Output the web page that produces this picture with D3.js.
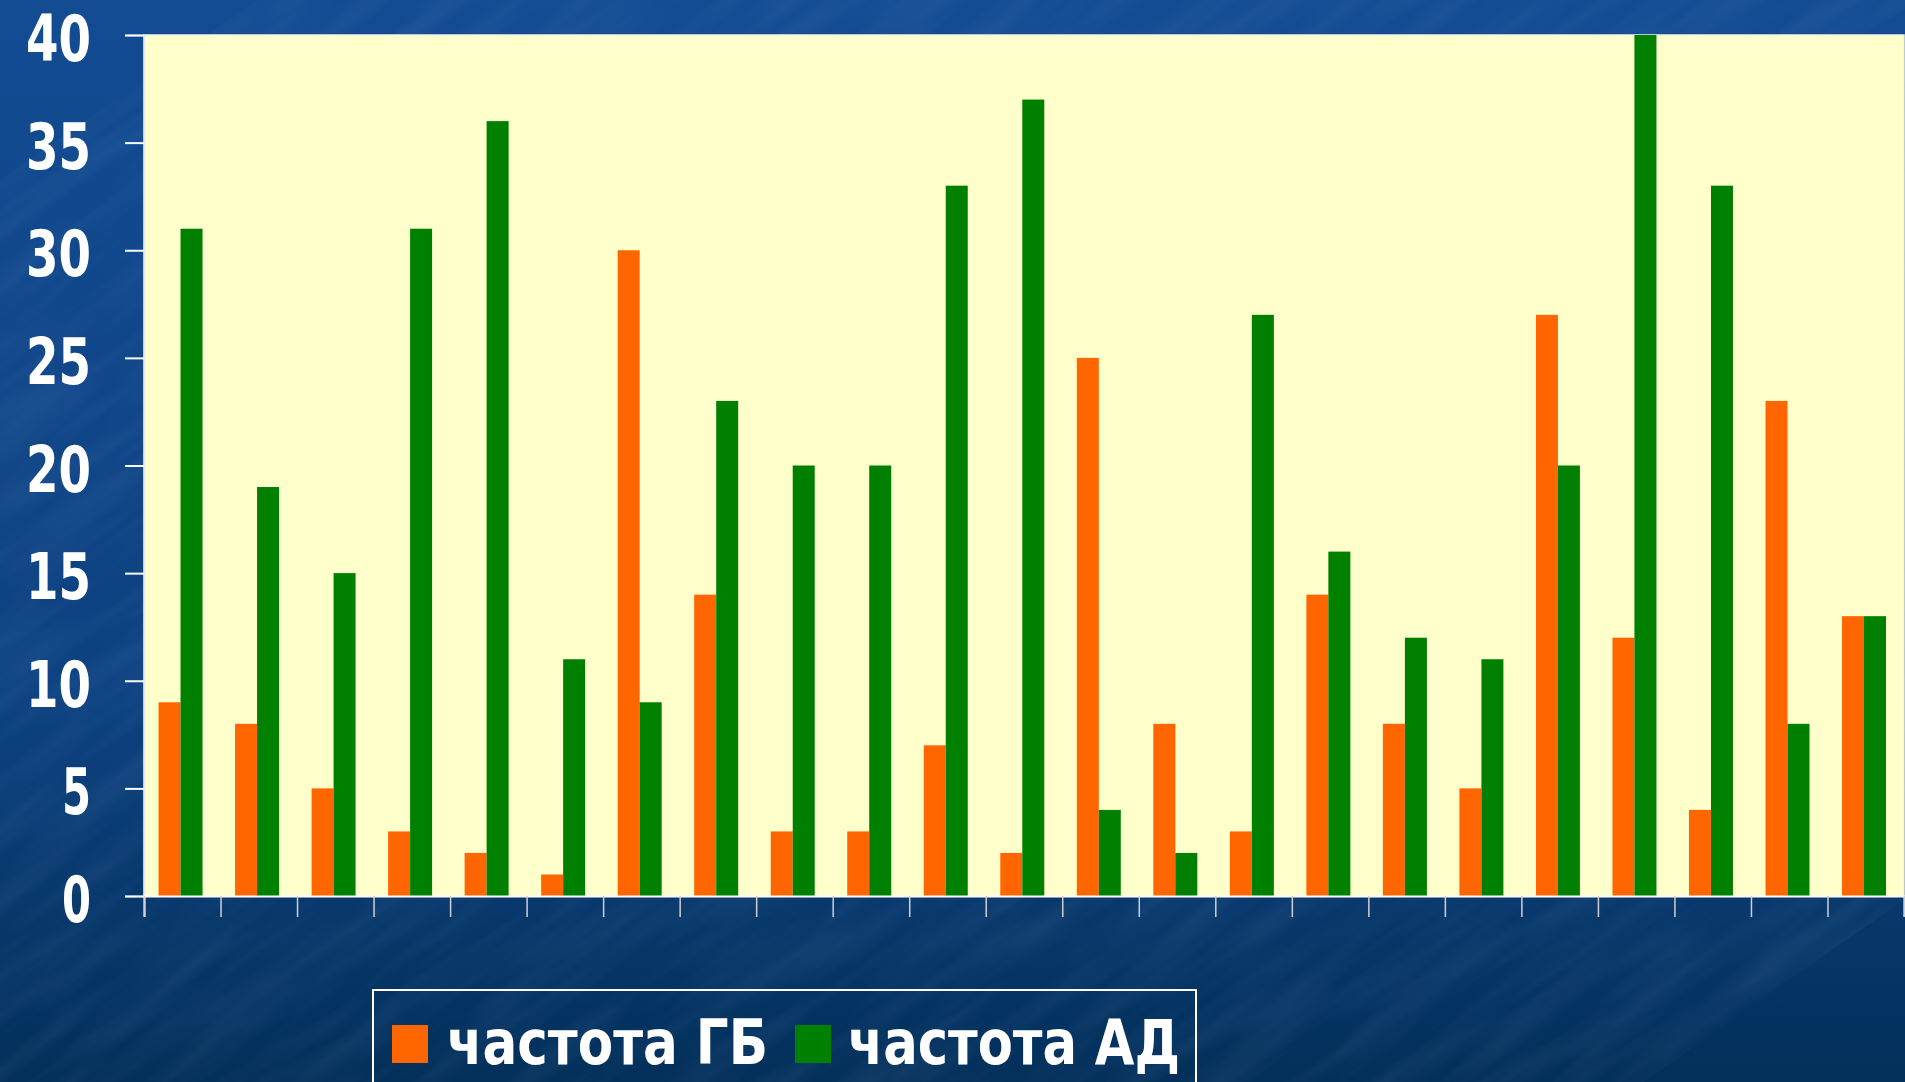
<!DOCTYPE html>
<html><head><meta charset="utf-8">
<script src="https://cdn.jsdelivr.net/npm/d3@7"></script>
<style>html,body{margin:0;padding:0;overflow:hidden;background:#0b3a70}</style>
</head><body>
<svg id="c" width="1905" height="1082"></svg>
<script>
const categories = d3.range(1, 24).map(String);
const seriesNames = ["частота ГБ", "частота АД"];
const valuesGB = [9, 8, 5, 3, 2, 1, 30, 14, 3, 3, 7, 2, 25, 8, 3, 14, 8, 5, 27, 12, 4, 23, 13];
const valuesAD = [31, 19, 15, 31, 36, 11, 9, 23, 20, 20, 33, 37, 4, 2, 27, 16, 12, 11, 20, 40, 33, 8, 13];
const yTicks = [0, 5, 10, 15, 20, 25, 30, 35, 40];
const colors = ["#FF6600", "#008000"];

const svg = d3.select("#c");
const W = 1905, H = 1082;
const defs = svg.append("defs");
const g = defs.append("linearGradient").attr("id","bg").attr("x1",0).attr("y1",0).attr("x2",0).attr("y2",1);
g.append("stop").attr("offset","0%").attr("stop-color","#134c93");
g.append("stop").attr("offset","65%").attr("stop-color","#0d4180");
g.append("stop").attr("offset","100%").attr("stop-color","#03305a");
const f = defs.append("filter").attr("id","tex").attr("x",0).attr("y",0).attr("width","100%").attr("height","100%");
f.append("feTurbulence").attr("type","fractalNoise").attr("baseFrequency","0.006 0.04").attr("numOctaves",3).attr("seed",7);
f.append("feColorMatrix").attr("values","0 0 0 0 0.45  0 0 0 0 0.6  0 0 0 0 0.9  0 0 0 0.3 -0.1");
svg.append("rect").attr("width",W).attr("height",H).attr("fill","url(#bg)");
svg.append("rect").attr("x",-300).attr("y",-300).attr("width",W+600).attr("height",H+600).attr("filter","url(#tex)").attr("transform","rotate(-35 950 540)").attr("opacity",0.45);

const pL = 144, pR = 1904, pT = 35, pB = 896;
const x = d3.scaleBand().domain(categories).range([pL, pR]).padding(0);
const xs = d3.scaleBand().domain(seriesNames).range([x.bandwidth()*0.19, x.bandwidth()*0.765]).padding(0);
const y = d3.scaleLinear().domain([0, 40]).range([pB, pT]);

svg.append("rect").attr("x",pL).attr("y",pT).attr("width",pR-pL).attr("height",pB-pT).attr("fill","#FFFFCC")
  .attr("stroke","#f4f4e8").attr("stroke-width",1.5);

const data = [valuesGB, valuesAD];
data.forEach((vals, si) => {
  svg.append("g").selectAll("rect").data(vals).join("rect")
    .attr("x",(d,i)=>x(categories[i]) + xs(seriesNames[si]))
    .attr("width", xs.bandwidth())
    .attr("y", d=>y(d))
    .attr("height", d=>y(0)-y(d))
    .attr("fill", colors[si]);
});

const FONT = "'DejaVu Sans Condensed', 'DejaVu Sans', Verdana, sans-serif";

// y axis
const ya = svg.append("g").attr("transform",`translate(${pL},0)`)
  .call(d3.axisLeft(y).tickValues(yTicks).tickSize(19).tickPadding(34).tickFormat(d3.format("d")));
ya.select(".domain").attr("stroke","#e8e8e8").attr("stroke-width",1.5);
ya.selectAll(".tick line").attr("stroke","#ffffff").attr("stroke-width",2);
ya.selectAll(".tick text").attr("fill","#ffffff").attr("font-family",FONT)
  .attr("font-weight","bold").attr("font-size",64).attr("dy","0.40em")
  .attr("textLength", d=> String(d).length===1 ? 29 : 65).attr("lengthAdjust","spacingAndGlyphs");

// x axis
const xb = d3.scaleLinear().domain([0, categories.length]).range([pL, pR]);
const xa = svg.append("g").attr("transform",`translate(0,${pB})`)
  .call(d3.axisBottom(xb).tickValues(d3.range(categories.length+1)).tickSize(21).tickFormat(""));
xa.select(".domain").attr("stroke","#ffffff").attr("stroke-width",2);
xa.selectAll(".tick line").attr("stroke","#d0d0d0").attr("stroke-width",1.5);

// legend
const lg = svg.append("g");
lg.append("rect").attr("x",373).attr("y",990).attr("width",823).attr("height",120)
  .attr("fill","none").attr("stroke","#ffffff").attr("stroke-width",2);
const legItems = [
  {name: seriesNames[0], color: colors[0], sx: 392, tx: 447, tw: 321},
  {name: seriesNames[1], color: colors[1], sx: 795, tx: 848, tw: 332}
];
legItems.forEach(it => {
  lg.append("rect").attr("x",it.sx).attr("y",1025).attr("width",36).attr("height",38).attr("fill",it.color);
  lg.append("text").attr("x",it.tx).attr("y",1064).text(it.name)
    .attr("fill","#ffffff").attr("font-family",FONT).attr("font-weight","bold")
    .attr("font-size",63).attr("textLength",it.tw).attr("lengthAdjust","spacingAndGlyphs");
});
</script>
</body></html>
